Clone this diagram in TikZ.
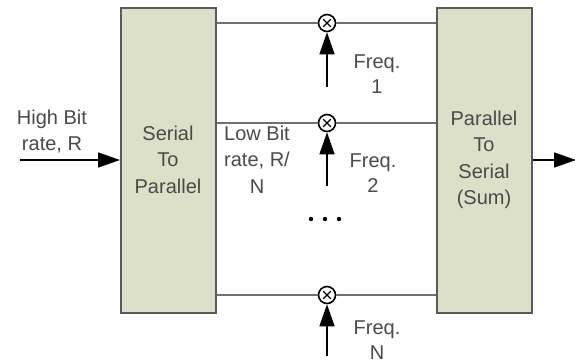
\documentclass[tikz,border=0pt]{standalone}
\usepackage{fontspec}
\setmainfont{Liberation Sans}
\usetikzlibrary{arrows.meta}
\definecolor{boxfill}{HTML}{DCE0C8}
\definecolor{boxline}{HTML}{5A5A5A}
\definecolor{wire}{HTML}{707070}
\definecolor{txt}{HTML}{4A4A4A}
\tikzset{
  blk/.style={draw=boxline, line width=2pt, fill=boxfill, minimum width=95pt, minimum height=305pt, inner sep=0pt},
  mix/.style={circle, draw=black, line width=1.6pt, minimum size=17pt, inner sep=0pt, fill=white},
  wireline/.style={draw=wire, line width=1.8pt},
  sig/.style={draw=black, line width=1.4pt, -{Triangle[length=22pt,width=15pt]}},
  lbl/.style={text=txt, align=center, font=\fontsize{20}{26.5}\selectfont, inner sep=0pt},
  flbl/.style={text=txt, align=center, font=\fontsize{20}{25}\selectfont, inner sep=0pt}
}
\begin{document}
\begin{tikzpicture}[x=1pt,y=-1pt]
\useasboundingbox (0,0) rectangle (575,363);
\fill[white] (0,0) rectangle (575,363);
% blocks
\node[blk] (sp) at (168.5,160.5) {};
\node[blk] (ps) at (484.5,160.5) {};
% mixers
\node[mix] (m1) at (327,23) {};
\node[mix] (m2) at (327,123) {};
\node[mix] (mN) at (327,295) {};
\foreach \m in {m1,m2,mN}{
  \draw[line width=1.1pt] ([shift={(-3.8,-3.8)}]\m.center) -- ([shift={(3.8,3.8)}]\m.center);
  \draw[line width=1.1pt] ([shift={(-3.8,3.8)}]\m.center) -- ([shift={(3.8,-3.8)}]\m.center);
}
% wires
\draw[wireline] (sp.east|-m1) -- (m1.west);
\draw[wireline] (m1.east) -- (ps.west|-m1);
\draw[wireline] (sp.east|-m2) -- (m2.west);
\draw[wireline] (m2.east) -- (ps.west|-m2);
\draw[wireline] (sp.east|-mN) -- (mN.west);
\draw[wireline] (mN.east) -- (ps.west|-mN);
% frequency inputs
\coordinate (f1) at (327,87);
\coordinate (f2) at (327,186);
\coordinate (fN) at (327,356);
\draw[sig] (f1) -- (m1.south);
\draw[sig] (f2) -- (m2.south);
\draw[sig] (fN) -- (mN.south);
% input / output
\coordinate (in) at (20,160);
\coordinate (out) at (576,160);
\draw[sig] (in) -- (sp.west|-in);
\draw[sig] (ps.east|-out) -- (out);
% dots
\foreach \x [count=\i] in {311,325,339}{\fill (\x,219) circle (2.2pt);}
% labels
\node[lbl] (thi) at (52,131.5) {High Bit\\rate, R};
\node[lbl] (tsp) at (168,159.5) {Serial\\To\\Parallel};
\node[lbl] (tlo) at (257,159.5) {Low Bit\\rate, R/\\N};
\node[lbl] (tps) at (484,160) {Parallel\\To\\Serial\\(Sum)};
\node[flbl] (tf1) at (377,74.5) {Freq.\\1};
\node[flbl] (tf2) at (373,173.5) {Freq.\\2};
\node[flbl] (tfN) at (377,340.5) {Freq.\\N};
\end{tikzpicture}
\end{document}
